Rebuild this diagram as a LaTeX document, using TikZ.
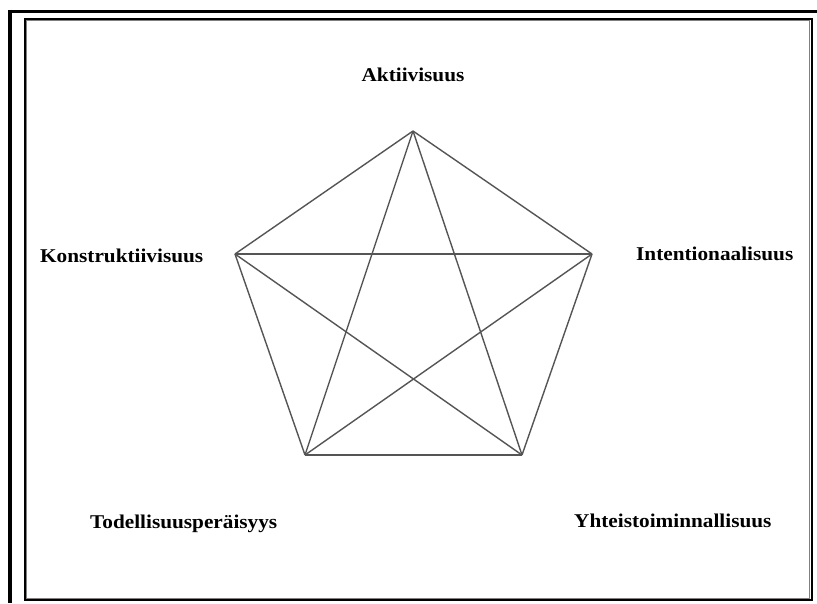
\documentclass[tikz,border=0pt]{standalone}
\usepackage{fontspec}
\setmainfont{Liberation Serif}
\newcommand{\wtext}[1]{\scalebox{1.09}[1]{#1}}
\begin{document}
\begin{tikzpicture}[x=1pt,y=-1pt,
  edge/.style={draw={rgb,255:red,85;green,85;blue,85},line width=1.4pt},
  lbl/.style={font=\fontsize{19.5}{22}\selectfont\bfseries,inner sep=0pt},
  pt/.style={inner sep=0pt,minimum size=0pt}]
\useasboundingbox (0,0) rectangle (817,603);
\fill[white] (0,0) rectangle (817,603);
% outer frame lines (cut off at right and bottom)
\draw[line width=3.6pt] (8,11.5) -- (817,11.5);
\draw[line width=3.6pt] (10,9.7) -- (10,603);
% inner frame
\draw[line width=1.2pt,gray] (26.8,20.8) rectangle (809.7,598.2);
\draw[line width=2pt] (25,19) rectangle (811.5,600);
% vertices
\node[pt] (A) at (413,131) {};
\node[pt] (I) at (592,254) {};
\node[pt] (Y) at (522,455) {};
\node[pt] (T) at (305,455) {};
\node[pt] (K) at (235,254) {};
% edges
\foreach \a/\b in {A/I,I/Y,Y/T,T/K,K/A,A/Y,A/T,K/I,K/Y,I/T}
  \draw[edge] (\a.center) -- (\b.center);
% labels
\node[lbl] (lA) at (413,75) {\wtext{Aktiivisuus}};
\node[lbl,anchor=west] (lK) at (40,256) {\wtext{Konstruktiivisuus}};
\node[lbl,anchor=west] (lI) at (636,254) {\wtext{Intentionaalisuus}};
\node[lbl,anchor=west] (lT) at (90,524) {\wtext{Todellisuusperäisyys}};
\node[lbl,anchor=west] (lY) at (574,521) {\wtext{Yhteistoiminnallisuus}};
\end{tikzpicture}
\end{document}
